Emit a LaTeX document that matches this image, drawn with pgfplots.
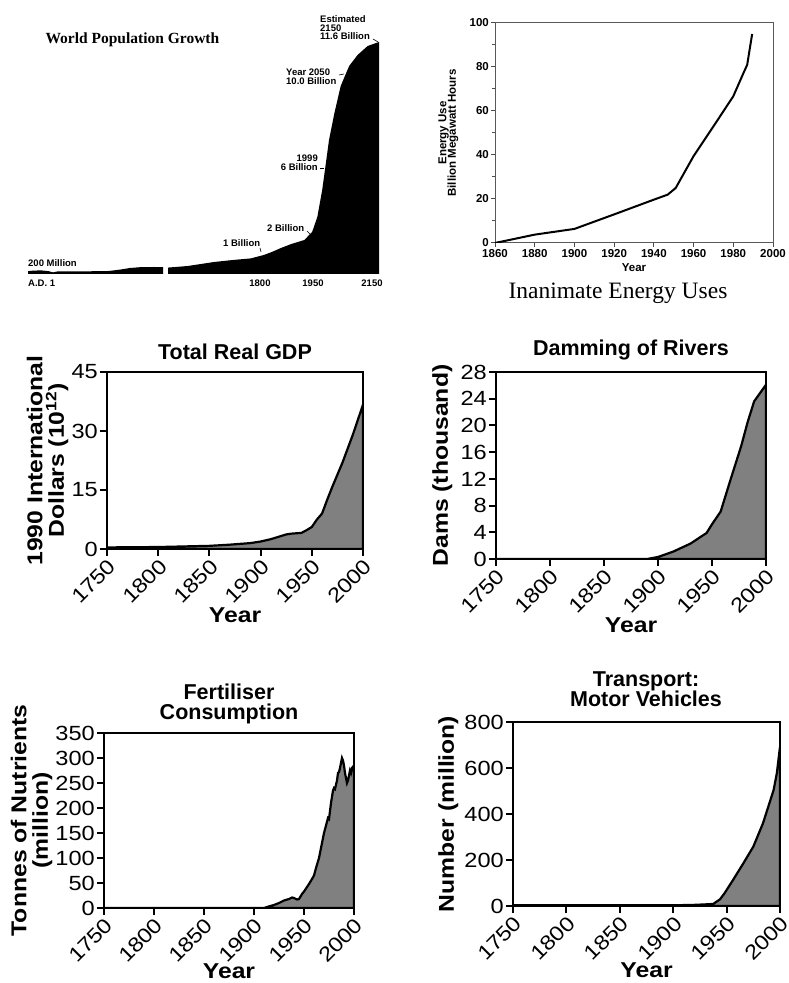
\documentclass[border=0pt]{standalone}
\usepackage{fontspec}
\setmainfont{Liberation Sans}
\newfontfamily\serifface{Liberation Serif}
\newfontfamily\widesans[FakeStretch=1.15]{Liberation Sans}
\usepackage{pgfplots}
\pgfplotsset{compat=1.18}

\definecolor{areagray}{gray}{0.5}
\newcommand{\fs}[1]{\fontsize{#1}{#1}\selectfont}

\pgfplotsset{
  lowpanel/.style={
    scale only axis, axis on top, anchor=south west,
    xmin=1750, xmax=2000, ymin=0,
    xtick={1750,1800,...,2000},
    axis line style={line width=2.5pt},
    tick align=outside, major tick length=7pt,
    every tick/.style={black, line width=2pt},
    xtick pos=bottom, ytick pos=left,
    /pgf/number format/assume math mode=true,
    /pgf/number format/1000 sep={},
    ticklabel style={font=\widesans\fs{20.5}},
    xticklabel style={rotate=45, anchor=north east, inner sep=1pt},
    yticklabel style={inner sep=2pt},
    label style={font=\widesans\bfseries\fs{21.5}, align=center},
    xlabel style={inner sep=1pt},
    ylabel style={inner sep=1pt},
    xlabel=Year,
  },
  area/.style={draw=black, line width=2.2pt, fill=areagray},
  pop/.style={
    scale only axis, anchor=south west, axis lines=none,
    height=232pt, ymin=0, ymax=11.6, clip=false,
  },
}

\begin{document}
\begin{tikzpicture}[x=1pt, y=1pt]
\path[use as bounding box] (0,0) rectangle (788,983);

% ---- World population growth (broken time axis) ----
\begin{axis}[pop, at={(28pt,709pt)}, width=135pt, xmin=1, xmax=1500]
  \addplot[fill=black, draw=none] coordinates {
    (1,0.14) (60,0.17) (150,0.18) (230,0.14) (279,0.08) (330,0.13)
    (600,0.13) (900,0.15) (1022,0.22) (1134,0.30) (1245,0.34)
    (1400,0.35) (1500,0.34)
  } \closedcycle;
\end{axis}
\begin{axis}[pop, at={(168pt,709pt)}, width=211pt, xmin=1500, xmax=2150]
  \addplot[fill=black, draw=none] coordinates {
    (1500,0.32) (1561,0.40) (1642,0.60) (1700,0.70) (1755,0.78)
    (1795,0.95) (1820,1.10) (1848,1.30) (1880,1.50) (1920,1.70)
    (1944,2.10) (1960,2.85) (1975,4.20) (1986,5.50) (1996,6.70)
    (2012,8.00) (2032,9.40) (2058,10.40) (2084,10.95) (2115,11.40)
    (2150,11.60)
  } \closedcycle;
\end{axis}
\node[font=\serifface\bfseries\fs{15.5}, anchor=west] at (42,943) {World Population Growth};
\begin{scope}[font=\bfseries\fs{9.5}, inner sep=0pt]
  \node[anchor=west, align=left] at (320,955) {Estimated\\[-1pt]2150\\[-1pt]11.6 Billion};
  \draw[line width=0.6pt] (373,944) -- (378,941);
  \node[anchor=west, align=left] at (286,906.5) {Year 2050\\[-1pt]10.0 Billion};
  \draw[line width=0.6pt] (339,908) -- (344,909);
  \node[anchor=east, align=right] at (318,820.5) {1999\\[-1pt]6 Billion};
  \draw[line width=0.6pt] (320,815) -- (324,815);
  \node[anchor=west] at (267,755) {2 Billion};
  \draw[line width=0.6pt] (307,752) -- (311,748);
  \node[anchor=west] at (223,740) {1 Billion};
  \draw[line width=0.6pt] (260,735) -- (261,731);
  \node[anchor=west] at (28,720) {200 Million};
  \node[anchor=west] at (28,700) {A.D. 1};
  \node at (260,700) {1800};
  \node at (313,700) {1950};
  \node at (372,700) {2150};
\end{scope}

% ---- Inanimate energy uses ----
\begin{axis}[
  scale only axis, anchor=south west, at={(495pt,740pt)},
  width=278pt, height=220pt,
  xmin=1860, xmax=2000, ymin=0, ymax=100,
  xtick={1860,1880,...,2000}, ytick={0,20,...,100},
  minor y tick num=1,
  tick align=outside, major tick length=4pt, minor tick length=3pt,
  xtick pos=bottom, ytick pos=left,
  axis line style={draw=black!65, line width=1pt},
  every tick/.style={black!70, line width=1pt},
  /pgf/number format/assume math mode=true,
  /pgf/number format/1000 sep={},
  ticklabel style={font=\bfseries\fs{11.5}, inner sep=2pt},
  label style={font=\bfseries\fs{11.5}, align=center},
  xlabel=Year, xlabel style={inner sep=1pt, yshift=-3pt},
  ylabel={Energy Use\\[-2pt]Billion Megawatt Hours},
  ylabel style={inner sep=2pt, yshift=7pt},
]
  \addplot[black, line width=2pt] coordinates {
    (1860,0) (1880,3.8) (1900,6.4) (1920,13) (1940,19.7) (1947,22)
    (1951,25) (1960,39.5) (1970,53) (1980,66.7) (1985,77) (1987,81)
    (1989.5,95)
  };
\end{axis}
\node[font=\serifface\fs{23.5}] at (618,690) {Inanimate Energy Uses};

% ---- Total real GDP ----
\begin{axis}[lowpanel, at={(107pt,434pt)}, width=256pt, height=177pt,
  ymax=45, ytick={0,15,30,45},
  ylabel={1990 International\\Dollars (10\textsuperscript{12})}]
  \addplot[area] coordinates {
    (1750,0.4) (1800,0.5) (1850,0.8) (1870,1.1) (1890,1.5) (1900,1.9)
    (1910,2.5) (1920,3.3) (1925,3.7) (1930,3.9) (1940,4.1) (1945,4.8)
    (1950,5.6) (1955,7.5) (1960,9.0) (1965,12.5) (1970,15.8) (1980,22)
    (1990,29) (2000,36.7)
  } \closedcycle;
\end{axis}
\node[font=\bfseries\fs{21.5}] at (235,631) {Total Real GDP};

% ---- Damming of rivers ----
\begin{axis}[lowpanel, at={(496pt,424pt)}, width=270pt, height=187pt,
  ymax=28, ytick={0,4,...,28},
  ylabel={Dams (thousand)}, ylabel style={yshift=5pt}]
  \addplot[area] coordinates {
    (1750,0) (1890,0) (1900,0.3) (1914,1.1) (1930,2.3) (1945,3.9)
    (1950,5.2) (1958,7.1) (1967,11.8) (1977,16.9) (1983,20.5)
    (1989,23.6) (2000,26.1)
  } \closedcycle;
\end{axis}
\node[font=\bfseries\fs{21.5}] at (631,633) {Damming of Rivers};

% ---- Fertiliser consumption ----
\begin{axis}[lowpanel, at={(104pt,75pt)}, width=250pt, height=175pt,
  ymax=350, ytick={0,50,...,350},
  xlabel style={yshift=3pt},
  ylabel={Tonnes of Nutrients\\(million)}]
  \addplot[area] coordinates {
    (1750,0) (1910,0) (1913,2) (1920,6) (1925,10) (1930,15) (1935,18)
    (1938,21) (1940,20) (1943,17) (1945,18) (1948,28) (1950,33)
    (1953,42) (1955,48) (1958,58) (1960,65) (1962,80) (1965,100)
    (1968,130) (1970,150) (1972,165) (1974,180) (1975,178) (1977,210)
    (1979,235) (1980,240) (1981,238) (1983,255) (1984,270) (1985,272)
    (1986,280) (1988,300) (1989,295) (1990,285) (1991,270) (1993,250)
    (1994,255) (1996,275) (1997,270) (1998,280) (2000,285)
  } \closedcycle;
\end{axis}
\node[font=\bfseries\fs{21.5}, align=center] at (229,279) {Fertiliser\\[-1pt]Consumption};

% ---- Motor vehicles ----
\begin{axis}[lowpanel, at={(513pt,77pt)}, width=267pt, height=184pt,
  ymax=800, ytick={0,200,...,800},
  xlabel style={yshift=2pt},
  ylabel={Number (million)}, ylabel style={yshift=3pt}]
  \addplot[area] coordinates {
    (1750,3) (1900,3) (1920,5) (1930,7) (1937.5,9) (1943.8,29)
    (1948,55) (1956,113) (1965.6,185) (1975,258) (1984,359) (1994,504)
    (1997,576) (2000,692)
  } \closedcycle;
\end{axis}
\node[font=\bfseries\fs{21.5}, align=center] at (646,294) {Transport:\\[-1pt]Motor Vehicles};
\end{tikzpicture}
\end{document}
